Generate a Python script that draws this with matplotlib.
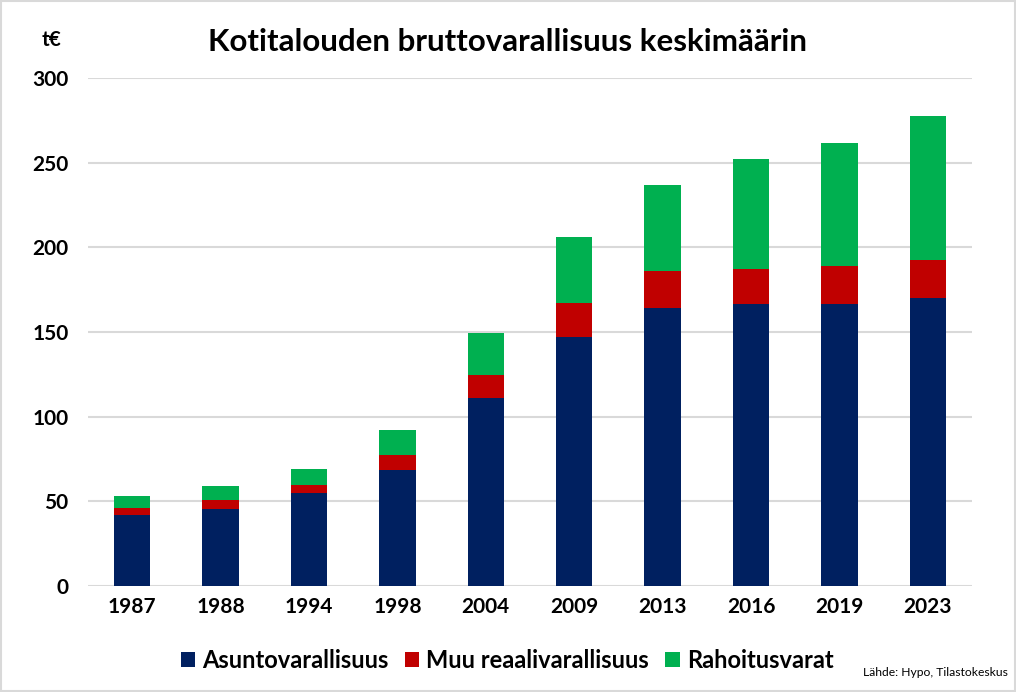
import matplotlib.pyplot as plt
from matplotlib.patches import Rectangle
import numpy as np

# Values in thousand euros
years = ["1987", "1988", "1994", "1998", "2004", "2009", "2013", "2016", "2019", "2023"]
asunto = [42.1, 45.7, 55.1, 68.7, 111.3, 147.3, 164.0, 166.3, 166.3, 169.8]
muu = [4.2, 5.3, 4.8, 8.9, 13.4, 20.1, 21.8, 21.2, 22.4, 22.5]
rahoitus = [7.1, 8.3, 9.4, 14.8, 24.9, 38.5, 50.8, 64.5, 72.7, 85.1]

labels = ["Asuntovarallisuus", "Muu reaalivarallisuus", "Rahoitusvarat"]
colors = ["#002060", "#C00000", "#00B050"]

plt.rcParams['font.family'] = ['Lato', 'DejaVu Sans']

fig = plt.figure(figsize=(10.16, 6.92), dpi=100)
ax = fig.add_axes([88 / 1016, 1 - 586 / 692, (972 - 88) / 1016, (586 - 78) / 692])

x = np.arange(len(years))
w = 0.41
ax.bar(x, asunto, w, color=colors[0], label=labels[0], zorder=3)
ax.bar(x, muu, w, bottom=asunto, color=colors[1], label=labels[1], zorder=3)
bottom2 = np.array(asunto) + np.array(muu)
ax.bar(x, rahoitus, w, bottom=bottom2, color=colors[2], label=labels[2], zorder=3)

ax.set_xlim(-0.5, len(years) - 0.5)
ax.set_ylim(0, 300)
ax.set_yticks(range(0, 301, 50))
ax.set_xticks(x)
ax.set_xticklabels(years)
ax.yaxis.grid(True, color="#D9D9D9", linewidth=1.5, zorder=0)
for s in ax.spines.values():
    s.set_visible(False)
ax.tick_params(length=0, labelsize=15, pad=8)
for t in ax.get_xticklabels() + ax.get_yticklabels():
    t.set_fontweight("bold")
ax.tick_params(axis="y", pad=14)

fig.text(0.5, 1 - 42 / 692, "Kotitalouden bruttovarallisuus keskimäärin",
         ha="center", va="center", fontsize=22.5, fontweight="bold")
fig.text(51 / 1016, 1 - 40 / 692, "t€", ha="center", va="center",
         fontsize=15, fontweight="bold")

leg = fig.legend(loc="center", bbox_to_anchor=(507 / 1016, 1 - 660 / 692), ncol=3,
                 frameon=False, fontsize=17, handlelength=0.6, handleheight=0.6,
                 handletextpad=0.3, columnspacing=0.7)
for t in leg.get_texts():
    t.set_fontweight("bold")

fig.text(1008 / 1016, 1 - 673 / 692, "Lähde: Hypo, Tilastokeskus",
         ha="right", va="center", fontsize=8.7)

fig.patches.append(Rectangle((0.001, 0.001), 0.998, 0.998, transform=fig.transFigure,
                             fill=False, edgecolor="#D9D9D9", linewidth=1.5))

fig.savefig("out.png", dpi=100)
